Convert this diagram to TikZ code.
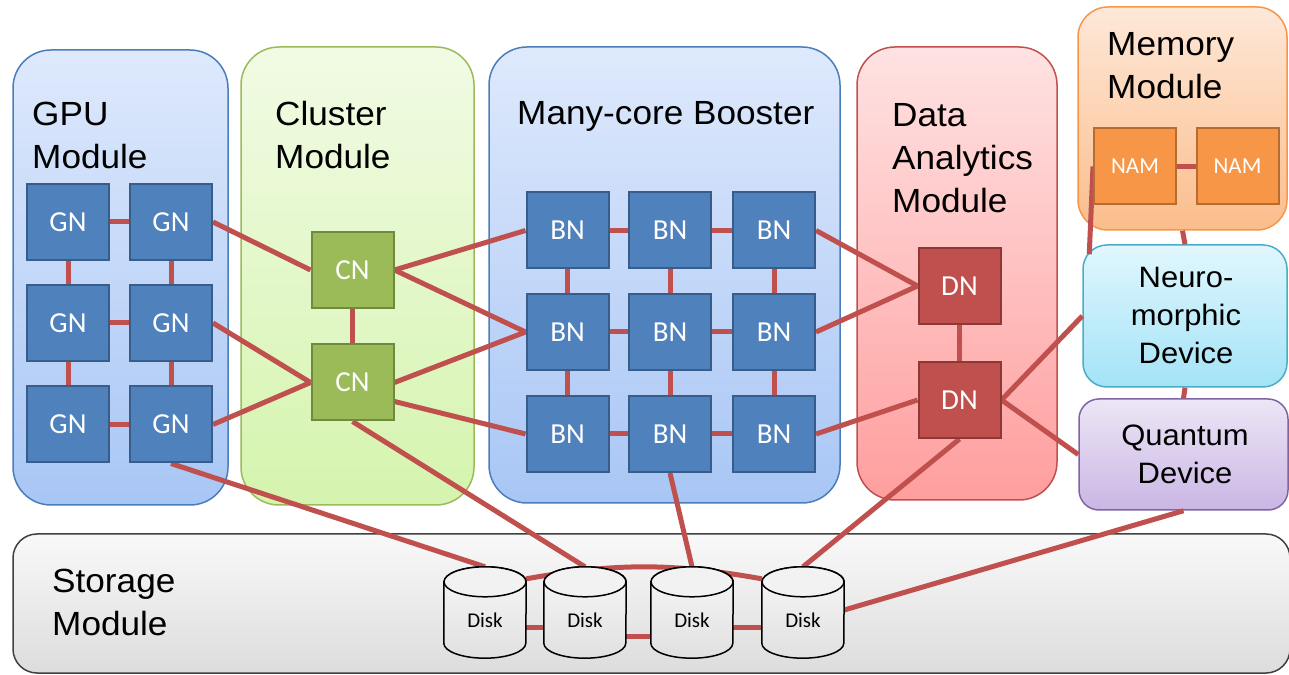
\documentclass[tikz,border=0pt]{standalone}
\usepackage{fontspec}
\setmainfont{Liberation Sans}[FakeStretch=1.05]
\newfontfamily\boxfont{Carlito}
\usetikzlibrary{backgrounds}
\definecolor{wirered}{HTML}{C0504D}
\definecolor{blueline}{HTML}{4A7EBB}
\definecolor{bluetop}{HTML}{DEE9FC}
\definecolor{bluebot}{HTML}{A8C6F5}
\definecolor{greenline}{HTML}{9BBB59}
\definecolor{greentop}{HTML}{F1FBE4}
\definecolor{greenbot}{HTML}{D5F4AE}
\definecolor{redline}{HTML}{C0504D}
\definecolor{redtop}{HTML}{FFE2E2}
\definecolor{redbot}{HTML}{FF9E9E}
\definecolor{orangeline}{HTML}{F79646}
\definecolor{orangetop}{HTML}{FEE8D8}
\definecolor{orangebot}{HTML}{FBBD8C}
\definecolor{cyanline}{HTML}{4BACC6}
\definecolor{cyantop}{HTML}{E1F7FD}
\definecolor{cyanbot}{HTML}{A3E3F7}
\definecolor{purpleline}{HTML}{8064A2}
\definecolor{purpletop}{HTML}{EDE6F6}
\definecolor{purplebot}{HTML}{CAB6E4}
\definecolor{gnfill}{HTML}{4F81BD}
\definecolor{gnline}{HTML}{385D8A}
\definecolor{cnfill}{HTML}{9BBB59}
\definecolor{cnline}{HTML}{71893F}
\definecolor{dnfill}{HTML}{C0504D}
\definecolor{dnline}{HTML}{8C3836}
\definecolor{namfill}{HTML}{F79646}
\definecolor{namline}{HTML}{B66D31}
\pgfdeclarelayer{modules}
\pgfdeclarelayer{wires}
\pgfdeclarelayer{disks}
\pgfsetlayers{modules,wires,disks,main}
\tikzset{
  module/.style={rectangle, rounded corners=#1, line width=1.5pt, inner sep=0pt},
  module/.default=38pt,
  bluemod/.style={module, draw=blueline, top color=bluetop, bottom color=bluebot},
  greenmod/.style={module, draw=greenline, top color=greentop, bottom color=greenbot},
  redmod/.style={module, draw=redline, top color=redtop, bottom color=redbot},
  orangemod/.style={module=30pt, draw=orangeline, top color=orangetop, bottom color=orangebot},
  cyanmod/.style={module=24pt, draw=cyanline, top color=cyantop, bottom color=cyanbot},
  purplemod/.style={module=20pt, draw=purpleline, top color=purpletop, bottom color=purplebot},
  storagemod/.style={module=24pt, draw=black!75, top color=gray!5, bottom color=gray!27},
  modtext/.style={anchor=north west, align=left, inner sep=0pt, font=\fontsize{33.5}{43}\selectfont},
  devtext/.style={anchor=north, align=center, inner sep=0pt, font=\fontsize{29.5}{38}\selectfont},
  unit/.style={rectangle, line width=2pt, minimum width=82pt, minimum height=76pt, text=white, font=\boxfont\fontsize{29}{29}\selectfont},
  gnode/.style={unit, fill=gnfill, draw=gnline},
  cnode/.style={unit, fill=cnfill, draw=cnline},
  dnode/.style={unit, fill=dnfill, draw=dnline},
  namnode/.style={unit, fill=namfill, draw=namline, font=\boxfont\fontsize{23}{23}\selectfont},
  disk/.style={rectangle, inner sep=0pt, minimum width=82pt, minimum height=76pt, font=\boxfont\fontsize{21}{21}\selectfont},
  diskline/.style={draw=black, line width=1.5pt},
  wire/.style={draw=wirered, line width=5pt},
}

\begin{document}
\begin{tikzpicture}[x=1pt,y=1pt]
\useasboundingbox (0,0) rectangle (1289,674);

\begin{pgfonlayer}{modules}
\node[bluemod, minimum width=215pt, minimum height=455pt] (gpu) at (120.5,396.5) {};
\node[greenmod, minimum width=233pt, minimum height=458pt] (cluster) at (357.5,398) {};
\node[bluemod, minimum width=351pt, minimum height=456pt] (booster) at (664.5,399) {};
\node[redmod, minimum width=200pt, minimum height=453pt] (dam) at (957,400.5) {};
\node[orangemod, minimum width=209pt, minimum height=223pt] (memory) at (1182.5,555.5) {};
\node[cyanmod, minimum width=204pt, minimum height=142pt] (neuro) at (1185,358) {};
\node[purplemod, minimum width=209pt, minimum height=111pt] (quantum) at (1183.5,219.5) {};
\node[storagemod, minimum width=1277pt, minimum height=139pt] (storage) at (651.5,70.5) {};
\end{pgfonlayer}

\node[modtext] (gputext) at (32,572) {GPU\\Module};
\node[modtext] (clustertext) at (275,573) {Cluster\\Module};
\node[modtext] (boostertext) at (517,573) {Many-core Booster};
\node[modtext] (damtext) at (892,571) {Data\\Analytics\\Module};
\node[modtext] (memorytext) at (1107,642) {Memory\\Module};
\node[modtext] (storagetext) at (52,105) {Storage\\Module};
\node[devtext] (neurotext) at (1186,407) {Neuro-\\morphic\\Device};
\node[devtext] (quantumtext) at (1185,249) {Quantum\\Device};

\node[gnode] (gn11) at (68,452) {GN};
\node[gnode] (gn12) at (171,452) {GN};
\node[gnode] (gn21) at (68,351) {GN};
\node[gnode] (gn22) at (171,351) {GN};
\node[gnode] (gn31) at (68,249.5) {GN};
\node[gnode] (gn32) at (171,249.5) {GN};

\node[cnode] (cn1) at (352.5,404) {CN};
\node[cnode] (cn2) at (352.5,291.5) {CN};

\node[gnode] (bn11) at (567.5,443.5) {BN};
\node[gnode] (bn12) at (670,443.5) {BN};
\node[gnode] (bn13) at (774,443.5) {BN};
\node[gnode] (bn21) at (567.5,342) {BN};
\node[gnode] (bn22) at (670,342) {BN};
\node[gnode] (bn23) at (774,342) {BN};
\node[gnode] (bn31) at (567.5,240) {BN};
\node[gnode] (bn32) at (670,240) {BN};
\node[gnode] (bn33) at (774,240) {BN};

\node[dnode] (dn1) at (959.5,388) {DN};
\node[dnode] (dn2) at (959.5,274) {DN};

\node[namnode] (nam1) at (1135,507.5) {NAM};
\node[namnode] (nam2) at (1237.5,507.5) {NAM};

\node[disk] (d1) at (485,54) {Disk};
\node[disk] (d2) at (585,54) {Disk};
\node[disk] (d3) at (692,54) {Disk};
\node[disk] (d4) at (803,54) {Disk};

\begin{pgfonlayer}{disks}
\foreach \d in {d1,d2,d3,d4}{
  \draw[diskline, top color=gray!6, bottom color=gray!24] (\d.north west) -- ([yshift=15pt]\d.south west)
    arc[start angle=180, end angle=360, x radius=41pt, y radius=15pt] -- (\d.north east)
    arc[start angle=0, end angle=180, x radius=41pt, y radius=15pt] -- cycle;
  \draw[diskline, fill=gray!10] (\d.north) ellipse[x radius=41pt, y radius=15pt];
}
\end{pgfonlayer}

\begin{pgfonlayer}{wires}
\draw[wire] (gn11) -- (gn12);
\draw[wire] (gn21) -- (gn22);
\draw[wire] (gn31) -- (gn32);
\draw[wire] (gn11) -- (gn21);
\draw[wire] (gn21) -- (gn31);
\draw[wire] (gn12) -- (gn22);
\draw[wire] (gn22) -- (gn32);
\draw[wire] (gn12.east) -- (cn1.west);
\draw[wire] (gn22.east) -- (cn2.west);
\draw[wire] (gn32.east) -- (cn2.west);
\draw[wire] (gn32.south) -- ([yshift=15pt]d1.north);
\draw[wire] (cn1) -- (cn2);
\draw[wire] (cn1.east) -- (bn11.west);
\draw[wire] (cn1.east) -- (bn21.west);
\draw[wire] (cn2.east) -- (bn21.west);
\draw[wire] ([yshift=-19pt]cn2.east) -- (bn31.west);
\draw[wire] (cn2.south) -- ([yshift=15pt]d2.north);
\draw[wire] (bn11) -- (bn12);
\draw[wire] (bn12) -- (bn13);
\draw[wire] (bn21) -- (bn22);
\draw[wire] (bn22) -- (bn23);
\draw[wire] (bn31) -- (bn32);
\draw[wire] (bn32) -- (bn33);
\draw[wire] (bn11) -- (bn21);
\draw[wire] (bn21) -- (bn31);
\draw[wire] (bn12) -- (bn22);
\draw[wire] (bn22) -- (bn32);
\draw[wire] (bn13) -- (bn23);
\draw[wire] (bn23) -- (bn33);
\draw[wire] (bn13.east) -- (dn1.west);
\draw[wire] (bn23.east) -- (dn1.west);
\draw[wire] (bn33.east) -- (dn2.west);
\draw[wire] (bn32.south) -- ([yshift=15pt]d3.north);
\draw[wire] (dn1) -- (dn2);
\draw[wire] (dn2.south) -- ([yshift=15pt]d4.north);
\draw[wire] (dn2.east) -- (neuro.west);
\draw[wire] (dn2.east) -- (quantum.west);
\draw[wire] (nam1) -- (nam2);
\draw[wire] (nam1.west) -- ([xshift=7pt,yshift=-10pt]neuro.north west);
\draw[wire] (memory.south) -- (neuro.north);
\draw[wire] (neuro.south) -- (quantum.north);
\draw[wire] (quantum.south) -- ([yshift=10pt]d4.east);
\draw[wire] ([yshift=3pt]d1.north east) to[bend left=10] ([yshift=3pt]d4.north west);
\draw[wire] ([yshift=-8pt]d1.east) -- ([yshift=-8pt]d2.west);
\draw[wire] ([yshift=-17pt]d2.east) -- ([yshift=-17pt]d3.west);
\draw[wire] ([yshift=-8pt]d3.east) -- ([yshift=-8pt]d4.west);
\end{pgfonlayer}
\end{tikzpicture}
\end{document}
